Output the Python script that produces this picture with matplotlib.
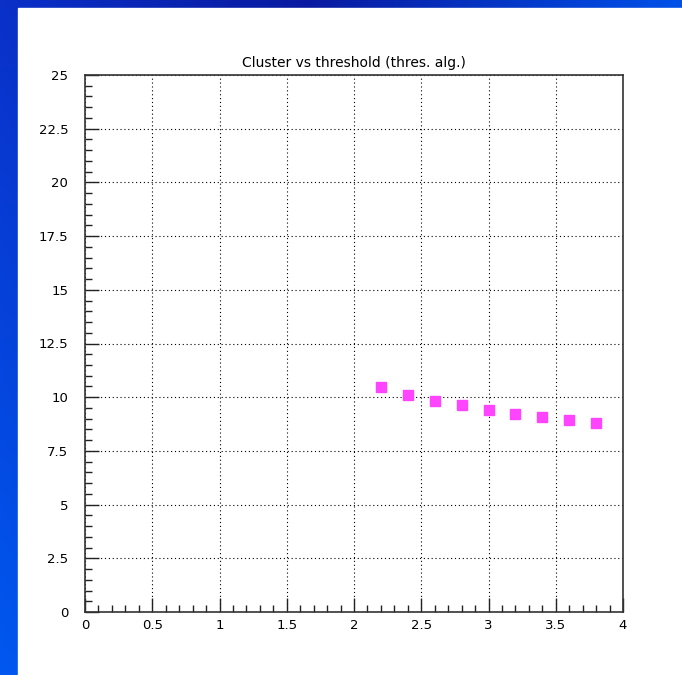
import numpy as np
import matplotlib
matplotlib.use("Agg")
import matplotlib.pyplot as plt
from matplotlib.ticker import MultipleLocator, FuncFormatter

# Data
thresholds = [2.2, 2.4, 2.6, 2.8, 3.0, 3.2, 3.4, 3.6, 3.8]
cluster = [10.47, 10.12, 9.82, 9.62, 9.40, 9.24, 9.10, 8.94, 8.79]
title = "Cluster vs threshold (thres. alg.)"

W, H = 682, 675
fig = plt.figure(figsize=(W / 100, H / 100), dpi=100)

# Blue gradient background
bg = fig.add_axes([0, 0, 1, 1])
bg.set_axis_off()
n = 300
xs = np.linspace(0, 1, n)
ys = np.linspace(0, 1, n)
top_x = np.array([0.0, 0.45, 1.0])
top_c = np.array([[10, 48, 200], [10, 26, 160], [0, 80, 232]]) / 255.0
left_y = np.array([0.0, 1.0])
left_c = np.array([[10, 48, 200], [0, 88, 240]]) / 255.0
top = np.stack([np.interp(xs, top_x, top_c[:, k]) for k in range(3)], axis=-1)
left = np.stack([np.interp(ys, left_y, left_c[:, k]) for k in range(3)], axis=-1)
img = top[None, :, :] + (left[:, None, :] - left_c[0][None, None, :])
img = np.clip(img, 0, 1)
bg.imshow(img, extent=[0, 1, 1, 0], aspect="auto")
bg.set_xlim(0, 1)
bg.set_ylim(1, 0)
bg.add_patch(plt.Rectangle((18 / W, 8 / H), 1, 1, color="white", zorder=2))

ax = fig.add_axes([85 / W, 63 / H, 538 / W, 537 / H])
ax.set_xlim(0, 4)
ax.set_ylim(0, 25)
ax.plot(thresholds, cluster, linestyle="none", marker="s", markersize=7.5,
        color="#ff44ff", markeredgecolor="#ff44ff")

ax.xaxis.set_major_locator(MultipleLocator(0.5))
ax.xaxis.set_minor_locator(MultipleLocator(0.1))
ax.yaxis.set_major_locator(MultipleLocator(2.5))
ax.yaxis.set_minor_locator(MultipleLocator(0.5))
fmt = FuncFormatter(lambda v, p: ("%g" % v))
ax.xaxis.set_major_formatter(fmt)
ax.yaxis.set_major_formatter(fmt)

ax.tick_params(which="both", direction="in", top=False, right=False,
               color="#222222", labelsize=9.5)
ax.tick_params(which="major", length=10, width=1)
ax.tick_params(which="minor", length=5, width=1)
ax.tick_params(axis="y", pad=12)
ax.tick_params(axis="x", pad=5)
ax.grid(True, which="major", linestyle=(0, (1, 2.5)), color="black", linewidth=0.8)
for s in ax.spines.values():
    s.set_color("#333333")
    s.set_linewidth(1.2)

ax.set_title(title, fontsize=10, pad=6)

fig.savefig("out.png", dpi=100)
